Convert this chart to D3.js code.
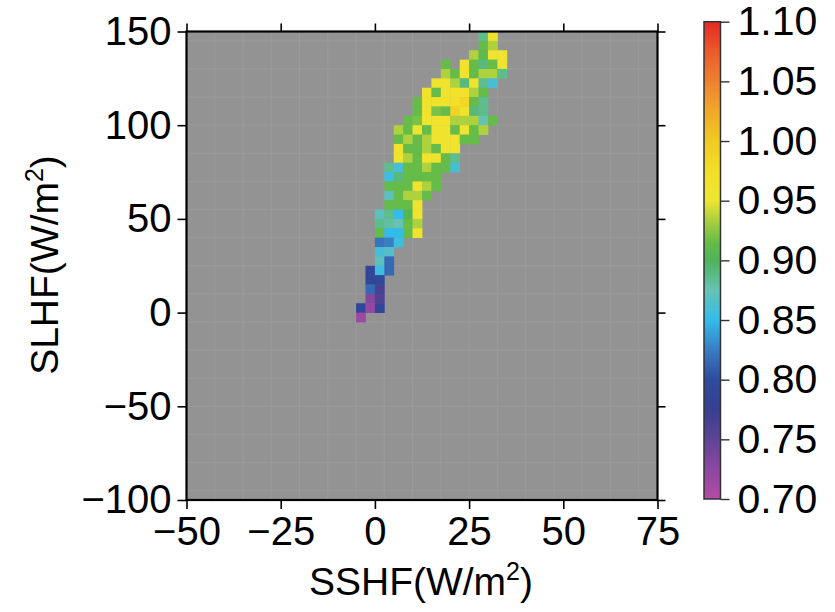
<!DOCTYPE html>
<html><head><meta charset="utf-8">
<script src="https://cdn.jsdelivr.net/npm/d3@7/dist/d3.min.js"></script>
<style>
body{margin:0;background:#fff}
svg{display:block}
text{font-family:"Liberation Sans",Arial,Helvetica,sans-serif;fill:#000}
</style>
</head><body>
<svg id="chart" width="835" height="612"></svg>
<script>
// ---------------- data ----------------
const xBinStarts = [-5,-2.5,0,2.5,5,7.5,10,12.5,15,17.5,20,22.5,25,27.5,30,32.5]; // SSHF bin left edges (width 2.5)
const yBinTops = [150,145,140,135,130,125,120,115,110,105,100,95,90,85,80,75,70,65,60,55,50,45,40,35,30,25,20,15,10,5,0]; // SLHF bin top edges (height 5)
const _ = null;
const ratioRows = [
  [_,_,_,_,_,_,_,_,_,_,_,_,_,0.885,0.96,_],
  [_,_,_,_,_,_,_,_,_,_,_,_,_,0.915,0.935,_],
  [_,_,_,_,_,_,_,_,_,_,_,_,0.935,0.91,0.96,0.955],
  [_,_,_,_,_,_,_,_,_,0.915,_,0.96,0.915,0.89,0.915,0.96],
  [_,_,_,_,_,_,_,_,_,0.935,0.915,0.96,0.915,0.935,0.935,0.885],
  [_,_,_,_,_,_,_,_,0.96,0.96,0.935,0.89,0.96,0.885,0.86,_],
  [_,_,_,_,_,_,_,0.96,0.915,0.96,0.965,0.96,0.935,0.915,_,_],
  [_,_,_,_,_,_,0.915,0.96,0.96,0.965,0.97,0.985,0.915,0.885,_,_],
  [_,_,_,_,_,_,0.915,0.96,0.92,0.915,0.99,0.965,0.89,0.885,_,_],
  [_,_,_,_,_,0.915,0.92,0.96,0.96,0.965,0.935,0.935,0.935,0.875,0.915,_],
  [_,_,_,_,0.935,0.915,0.96,0.915,0.96,0.96,0.915,0.96,0.915,0.935,_,_],
  [_,_,_,_,0.915,0.935,0.915,0.935,0.96,0.965,0.96,0.915,0.915,_,_,_],
  [_,_,_,_,0.96,0.915,0.915,0.935,0.915,0.96,0.96,_,_,_,_,_],
  [_,_,_,_,0.96,0.935,0.915,0.96,0.96,0.915,0.885,_,_,_,_,_],
  [_,_,_,0.885,0.86,0.915,0.915,0.935,0.915,0.915,0.86,_,_,_,_,_],
  [_,_,_,0.855,0.89,0.915,0.915,0.915,0.915,_,_,_,_,_,_,_],
  [_,_,_,0.915,0.915,0.915,0.96,0.935,0.915,_,_,_,_,_,_,_],
  [_,_,_,0.87,0.915,0.935,0.935,0.915,_,_,_,_,_,_,_,_],
  [_,_,_,0.915,0.915,0.915,0.96,_,_,_,_,_,_,_,_,_],
  [_,_,0.87,0.885,0.85,0.905,0.96,_,_,_,_,_,_,_,_,_],
  [_,_,0.885,0.88,0.875,0.915,0.935,_,_,_,_,_,_,_,_,_],
  [_,_,0.915,0.85,0.85,0.915,0.96,_,_,_,_,_,_,_,_,_],
  [_,_,0.82,0.825,0.855,_,_,_,_,_,_,_,_,_,_,_],
  [_,_,0.86,0.865,_,_,_,_,_,_,_,_,_,_,_,_],
  [_,_,0.87,0.815,_,_,_,_,_,_,_,_,_,_,_,_],
  [_,0.79,0.855,0.815,_,_,_,_,_,_,_,_,_,_,_,_],
  [_,0.79,0.795,_,_,_,_,_,_,_,_,_,_,_,_,_],
  [_,0.815,0.765,_,_,_,_,_,_,_,_,_,_,_,_,_],
  [_,0.73,0.76,_,_,_,_,_,_,_,_,_,_,_,_,_],
  [0.79,0.72,0.79,_,_,_,_,_,_,_,_,_,_,_,_,_],
  [0.715,_,_,_,_,_,_,_,_,_,_,_,_,_,_,_]
];
const xBinWidth = 2.5, yBinHeight = 5;

const xTicks = [-50,-25,0,25,50,75];
const xTickLabels = ["\u221250","\u221225","0","25","50","75"];
const yTicks = [-100,-50,0,50,100,150];
const yTickLabels = ["\u2212100","\u221250","0","50","100","150"];
const cbTicks = [0.70,0.75,0.80,0.85,0.90,0.95,1.00,1.05,1.10];
const cbTickLabels = ["0.70","0.75","0.80","0.85","0.90","0.95","1.00","1.05","1.10"];

const cmapValues = [0.70,0.725,0.75,0.775,0.80,0.825,0.85,0.875,0.90,0.915,0.935,0.95,0.975,1.00,1.025,1.05,1.075,1.10];
const cmapColors = ["#b44aa8","#8c489f","#5e4497","#373f90","#2e4b9d","#3a7dc5","#33bbea","#66c3b3","#4fb35a","#66bc48","#aed23e","#eee631","#f3df28","#f0cb22","#f0a82a","#ee8231","#eb5a2b","#e42a24"];

// ---------------- drawing ----------------
const svg = d3.select("#chart");
const x = d3.scaleLinear().domain([-50,75]).range([186.5,657.5]);
const y = d3.scaleLinear().domain([-100,150]).range([500,31.5]);
const color = d3.scaleLinear().domain(cmapValues).range(cmapColors).interpolate(d3.interpolateRgb).clamp(true);

// plot background
svg.append("rect").attr("x",x(-50)).attr("y",y(150)).attr("width",x(75)-x(-50)).attr("height",y(-100)-y(150)).attr("fill","#939393");

// faint tile seams
const seamG = svg.append("g").attr("stroke","#9b9b9b").attr("stroke-width",1);
d3.range(-50+7.5,75,7.5).forEach(v=>seamG.append("line").attr("x1",x(v)).attr("x2",x(v)).attr("y1",y(150)).attr("y2",y(-100)));
d3.range(145,-100,-15).forEach(v=>seamG.append("line").attr("y1",y(v)).attr("y2",y(v)).attr("x1",x(-50)).attr("x2",x(75)));

// cells
const cells = [];
ratioRows.forEach((row,k)=>row.forEach((v,j)=>{ if(v!==null) cells.push({x0:xBinStarts[j], yTop:yBinTops[k], v}); }));
svg.append("g").selectAll("rect").data(cells).join("rect")
  .attr("x",d=>x(d.x0)).attr("y",d=>y(d.yTop))
  .attr("width",d=>x(d.x0+xBinWidth)-x(d.x0)+0.4)
  .attr("height",d=>y(d.yTop-yBinHeight)-y(d.yTop)+0.4)
  .attr("fill",d=>color(d.v));

// axes
const fs = 40;
function styleAxis(g){
  g.select(".domain").remove();
  g.selectAll(".tick line").attr("stroke","#000").attr("stroke-width",1.6);
  g.selectAll(".tick text").attr("font-size",fs).attr("fill","#000");
}
svg.append("g").attr("transform",`translate(${x(-50)},0)`)
  .call(d3.axisLeft(y).tickValues(yTicks).tickSize(9).tickPadding(6).tickFormat((d,i)=>yTickLabels[i]))
  .call(styleAxis).attr("font-family",null);
svg.append("g").attr("transform",`translate(0,${y(-100)})`)
  .call(d3.axisBottom(x).tickValues(xTicks).tickSize(9).tickPadding(8).tickFormat((d,i)=>xTickLabels[i]))
  .call(styleAxis).attr("font-family",null);
svg.append("g").attr("transform",`translate(${x(75)},0)`)
  .call(d3.axisRight(y).tickValues(yTicks).tickSize(8).tickFormat(""))
  .call(styleAxis);
svg.append("g").attr("transform",`translate(0,${y(150)})`)
  .call(d3.axisTop(x).tickValues(xTicks).tickSize(8).tickFormat(""))
  .call(styleAxis);

// frame
svg.append("rect").attr("x",x(-50)).attr("y",y(150)).attr("width",x(75)-x(-50)).attr("height",y(-100)-y(150))
  .attr("fill","none").attr("stroke","#000").attr("stroke-width",2.2);

// axis titles
const xt = svg.append("text").attr("x",421).attr("y",595).attr("text-anchor","middle").attr("font-size",39);
xt.append("tspan").text("SSHF(W/m");
xt.append("tspan").text("2").attr("font-size",25).attr("dy",-15);
xt.append("tspan").text(")").attr("dy",15);
const yt = svg.append("text").attr("transform","translate(58,265) rotate(-90)").attr("text-anchor","middle").attr("font-size",39);
yt.append("tspan").text("SLHF(W/m");
yt.append("tspan").text("2").attr("font-size",25).attr("dy",-15);
yt.append("tspan").text(")").attr("dy",15);

// colorbar
const cb = d3.scaleLinear().domain([0.70,1.10]).range([499,21.7]);
const defs = svg.append("defs");
const grad = defs.append("linearGradient").attr("id","cbgrad").attr("x1",0).attr("x2",0).attr("y1",1).attr("y2",0);
cmapValues.forEach((v,i)=>grad.append("stop").attr("offset",(v-0.70)/0.40).attr("stop-color",cmapColors[i]));
const cbX = 704, cbW = 16.5;
svg.append("rect").attr("x",cbX).attr("y",cb(1.10)).attr("width",cbW).attr("height",cb(0.70)-cb(1.10))
  .attr("fill","url(#cbgrad)").attr("stroke","#333").attr("stroke-width",1.5);
const cbAxis = svg.append("g").attr("transform",`translate(${cbX+cbW},0)`)
  .call(d3.axisRight(cb).tickValues(cbTicks).tickSize(9).tickPadding(8).tickFormat((d,i)=>cbTickLabels[i]));
cbAxis.select(".domain").remove();
cbAxis.selectAll(".tick line").attr("stroke","#333").attr("stroke-width",1.4);
cbAxis.selectAll(".tick text").attr("font-size",41).attr("fill","#000");
cbAxis.attr("font-family",null);
</script>
</body></html>
